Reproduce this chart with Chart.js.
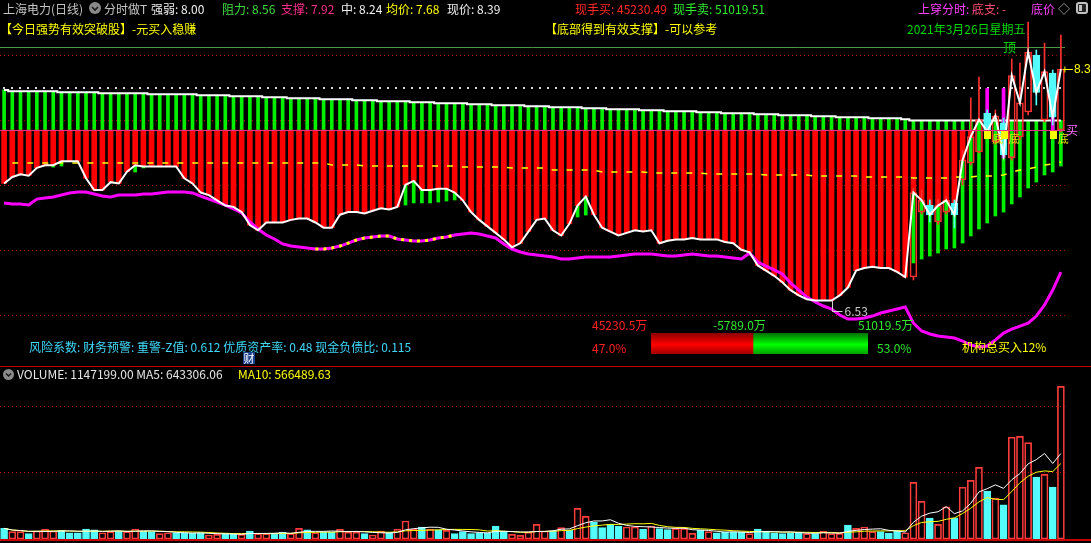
<!DOCTYPE html>
<html>
<head>
<meta charset="utf-8">
<script src="https://cdn.jsdelivr.net/npm/chart.js@4.4.1/dist/chart.umd.min.js"></script>
<style>
html, body { margin: 0; padding: 0; background: #000; }
body { width: 1091px; height: 543px; position: relative; overflow: hidden;
       font-family: "Noto Sans CJK SC", "Noto Sans", sans-serif; font-size: 12px; }
.t { position: absolute; white-space: nowrap; line-height: 14px; }
#main { position: absolute; left: 0; top: 0; }
#vol { position: absolute; left: 0; top: 367px; }
#ratio { position: absolute; left: 651px; top: 333px; }
#sep { position: absolute; left: 0; top: 366px; width: 1091px; height: 1px; background: #c80000; }
#bottom { position: absolute; left: 0; top: 539px; width: 1091px; height: 2px; background: #c80000; }
.cai { position: absolute; left: 243px; top: 352px; width: 12px; height: 12px; background: #1c3f8c;
       color: #fff; font-size: 11px; line-height: 12px; text-align: center; }
</style>
</head>
<body>
<canvas id="main" width="1091" height="366"></canvas>
<div id="sep"></div>
<canvas id="vol" width="1091" height="176"></canvas>
<div id="bottom"></div>
<canvas id="ratio" width="217" height="21"></canvas>

<!-- header row 1 -->
<div class="t" style="left:3px;top:2px;color:#c4c4c4">上海电力(日线)</div>
<svg style="position:absolute;left:89px;top:2px" width="12" height="12"><circle cx="6" cy="6" r="6" fill="#8a8a8a"/><path d="M3 5 L6 8 L9 5" stroke="#1a1a1a" stroke-width="1.6" fill="none"/></svg>
<div class="t" style="left:104px;top:2px;color:#c4c4c4">分时做T</div>
<div class="t" style="left:151px;top:2px;color:#f0f0f0">强弱: 8.00</div>
<div class="t" style="left:222px;top:2px;color:#3fdc3f">阻力: 8.56</div>
<div class="t" style="left:281px;top:2px;color:#ff2d8d">支撑: 7.92</div>
<div class="t" style="left:341px;top:2px;color:#f0f0f0">中: 8.24</div>
<div class="t" style="left:386px;top:2px;color:#ffff00">均价: 7.68</div>
<div class="t" style="left:447px;top:2px;color:#f0f0f0">现价: 8.39</div>
<div class="t" style="left:575px;top:2px;color:#ff2828">现手买: 45230.49</div>
<div class="t" style="left:673px;top:2px;color:#2ee82e">现手卖: 51019.51</div>
<div class="t" style="left:918px;top:2px;color:#ff40ff">上穿分时: -</div>
<div class="t" style="left:972px;top:2px;color:#ff4d70">底支: -</div>
<div class="t" style="left:1031px;top:2px;color:#ff40ff">底价</div>
<div class="t" style="left:1058px;top:2px;color:#b0b0b0">◇</div>
<svg style="position:absolute;left:1076px;top:2px" width="12" height="12"><rect x="1" y="1" width="10" height="10" rx="2" fill="#202020" stroke="#c0c0c0" stroke-width="2"/><rect x="3" y="3" width="3" height="6" fill="#c0c0c0"/></svg>

<!-- header row 2 -->
<div class="t" style="left:0px;top:22px;color:#ffff00">【今日强势有效突破股】-元买入稳赚</div>
<div class="t" style="left:545px;top:22px;color:#ffff00">【底部得到有效支撑】-可以参考</div>
<div class="t" style="left:907px;top:22px;color:#00d800">2021年3月26日星期五</div>

<!-- chart signals -->
<div class="t" style="left:1003px;top:40px;color:#00d000;font-size:13px">顶</div>
<div class="t" style="left:1066px;top:123px;color:#ff70ff">买</div>

<!-- money flow -->
<div class="t" style="left:592px;top:318px;color:#ff2020">45230.5万</div>
<div class="t" style="left:713px;top:318px;color:#2ee82e">-5789.0万</div>
<div class="t" style="left:858px;top:318px;color:#2ee82e">51019.5万</div>
<div class="t" style="left:592px;top:341px;color:#ff2020">47.0%</div>
<div class="t" style="left:877px;top:341px;color:#2ee82e">53.0%</div>
<div class="t" style="left:962px;top:340px;color:#ffff00">机构总买入12%</div>

<div class="t" style="left:29px;top:340px;color:#40d8f8">风险系数: 财务预警: 重警-Z值: 0.612 优质资产率: 0.48 现金负债比: 0.115</div>
<div class="cai">财</div>

<!-- volume header -->
<svg style="position:absolute;left:3px;top:369px" width="11" height="11"><circle cx="5.5" cy="5.5" r="5.5" fill="#8a8a8a"/><path d="M3 4.5 L5.5 7 L8 4.5" stroke="#1a1a1a" stroke-width="1.5" fill="none"/></svg>
<div class="t" style="left:17px;top:367px;color:#e6e6e6">VOLUME: 1147199.00 MA5: 643306.06</div>
<div class="t" style="left:238px;top:367px;color:#ffff00">MA10: 566489.63</div>

<script>
// ---- data ----
const days = Array.from({ length: 130 }, (_, i) => 'D' + (i + 1));

const close = [
  7.51, 7.56, 7.58, 7.57, 7.63, 7.65, 7.65, 7.68, 7.68, 7.68,
  7.55, 7.46, 7.46, 7.52, 7.51, 7.60, 7.65, 7.64, 7.64, 7.64,
  7.64, 7.64, 7.55, 7.51, 7.44, 7.42, 7.38, 7.34, 7.33, 7.29,
  7.19, 7.15, 7.21, 7.21, 7.21, 7.23, 7.24, 7.24, 7.21, 7.17,
  7.17, 7.27, 7.29, 7.29, 7.28, 7.30, 7.32, 7.31, 7.33, 7.50,
  7.53, 7.46, 7.46, 7.47, 7.47, 7.44, 7.38, 7.29, 7.23, 7.18,
  7.13, 7.08, 7.02, 7.05, 7.14, 7.23, 7.24, 7.15, 7.11, 7.20,
  7.34, 7.41, 7.27, 7.17, 7.14, 7.11, 7.13, 7.15, 7.14, 7.15,
  7.05, 7.07, 7.08, 7.08, 7.09, 7.08, 7.08, 7.08, 7.06, 7.05,
  7.00, 6.98, 6.88, 6.84, 6.80, 6.75, 6.69, 6.65, 6.62, 6.61,
  6.61, 6.61, 6.65, 6.71, 6.84, 6.86, 6.87, 6.86, 6.86, 6.83,
  6.79, 7.44, 7.38, 7.27, 7.34, 7.38, 7.27, 7.69, 7.87, 8.00,
  7.91, 8.03, 7.73, 8.34, 8.13, 8.52, 8.21, 8.37, 8.02, 8.39
];

// top of the green bars (stepped pressure line)
const greenTop = [
  8.228, 8.218, 8.218, 8.218, 8.218, 8.218, 8.218, 8.211, 8.211, 8.211,
  8.211, 8.211, 8.203, 8.203, 8.203, 8.203, 8.203, 8.203, 8.195, 8.195,
  8.195, 8.195, 8.195, 8.195, 8.187, 8.187, 8.187, 8.187, 8.180, 8.180,
  8.180, 8.180, 8.172, 8.172, 8.172, 8.164, 8.164, 8.164, 8.164, 8.157,
  8.157, 8.157, 8.157, 8.149, 8.149, 8.149, 8.141, 8.141, 8.141, 8.141,
  8.134, 8.134, 8.134, 8.126, 8.126, 8.126, 8.126, 8.118, 8.118, 8.118,
  8.111, 8.111, 8.111, 8.111, 8.103, 8.103, 8.103, 8.095, 8.095, 8.095,
  8.095, 8.088, 8.088, 8.088, 8.080, 8.080, 8.080, 8.080, 8.072, 8.072,
  8.072, 8.065, 8.065, 8.065, 8.065, 8.057, 8.057, 8.057, 8.049, 8.049,
  8.049, 8.049, 8.041, 8.041, 8.041, 8.034, 8.034, 8.034, 8.034, 8.026,
  8.026, 8.026, 8.018, 8.018, 8.018, 8.018, 8.011, 8.011, 8.011, 8.011,
  8.003, 7.994, 7.994, 7.994, 7.994, 7.994, 7.994, 7.994, 7.994, 7.994,
  7.994, 7.994, 7.994, 7.994, 7.994, 7.994, 7.994, 7.994, 7.994, 7.994
];

// lower ends of the green bars under the price
const greenLowIdx = [6, 7, 16, 17, 49, 50, 51, 52, 53, 54, 55, 70, 71,
  111, 112, 113, 114, 115, 116, 117, 118, 119, 120, 121, 122, 123, 124, 125, 126, 127, 128, 129];
const greenLowVal = [7.636, 7.644, 7.598, 7.629, 7.344, 7.360, 7.360, 7.360, 7.367, 7.375, 7.383, 7.252, 7.267,
  6.899, 6.929, 6.952, 6.975, 7.006, 7.014, 7.052, 7.106, 7.160, 7.206, 7.260, 7.290, 7.352, 7.406, 7.475,
  7.521, 7.575, 7.598, 7.644];

// magenta trend line
const trend = [
  7.360, 7.352, 7.352, 7.344, 7.390, 7.398, 7.406, 7.421, 7.437, 7.444,
  7.444, 7.429, 7.413, 7.406, 7.421, 7.421, 7.421, 7.429, 7.429, 7.437,
  7.444, 7.444, 7.444, 7.437, 7.413, 7.390, 7.367, 7.344, 7.314, 7.283,
  7.214, 7.160, 7.114, 7.083, 7.045, 7.029, 7.021, 7.014, 7.006, 7.006,
  7.014, 7.029, 7.052, 7.075, 7.091, 7.098, 7.106, 7.106, 7.083, 7.075,
  7.068, 7.068, 7.075, 7.091, 7.098, 7.114, 7.121, 7.129, 7.121, 7.106,
  7.091, 7.045, 7.006, 6.983, 6.968, 6.960, 6.952, 6.945, 6.929, 6.929,
  6.937, 6.945, 6.945, 6.945, 6.945, 6.952, 6.960, 6.968, 6.968, 6.968,
  6.960, 6.952, 6.952, 6.960, 6.968, 6.960, 6.952, 6.952, 6.945, 6.937,
  6.929, 6.975, 6.906, 6.875, 6.845, 6.814, 6.745, 6.691, 6.637, 6.599,
  6.568, 6.545, 6.499, 6.468, 6.468, 6.476, 6.491, 6.514, 6.530, 6.545,
  6.560, 6.437, 6.376, 6.353, 6.337, 6.330, 6.322, 6.299, 6.268, 6.253,
  6.261, 6.307, 6.360, 6.391, 6.414, 6.437, 6.491, 6.576, 6.691, 6.829
];
const trendHiFrom = 38, trendHiTo = 55;   // yellow-dotted stretch of the trend line

// yellow dashed average line
const avgLine = [
  null, 7.667, 7.667, 7.667, 7.667, 7.667, 7.667, 7.667, 7.667, 7.667,
  7.667, 7.667, 7.667, 7.667, 7.667, 7.667, 7.667, 7.667, 7.667, 7.667,
  7.667, 7.667, 7.667, 7.667, 7.667, 7.667, 7.667, 7.667, 7.667, 7.667,
  7.667, 7.667, 7.667, 7.667, 7.667, 7.667, 7.667, 7.667, 7.667, 7.667,
  7.652, 7.652, 7.652, 7.652, 7.644, 7.644, 7.644, 7.644, 7.644, 7.644,
  7.644, 7.644, 7.644, 7.644, 7.644, 7.644, 7.636, 7.636, 7.636, 7.636,
  7.636, 7.636, 7.629, 7.629, 7.629, 7.629, 7.629, 7.613, 7.613, 7.613,
  7.613, 7.613, 7.613, 7.598, 7.598, 7.598, 7.598, 7.598, 7.598, 7.590,
  7.590, 7.590, 7.590, 7.590, 7.590, 7.590, 7.583, 7.583, 7.583, 7.583,
  7.583, 7.583, 7.583, 7.575, 7.575, 7.575, 7.575, 7.575, 7.575, 7.567,
  7.567, 7.567, 7.567, 7.567, 7.567, 7.560, 7.560, 7.560, 7.560, 7.560,
  7.560, 7.552, 7.552, 7.552, 7.552, 7.552, 7.560, 7.560, 7.560, 7.567,
  7.567, 7.567, 7.575, 7.598, 7.613, 7.621, 7.636, 7.652, 7.660, 7.675
];

// candles of the last 19 sessions
const candleFrom = 111;
const cOpen = [6.791, 7.290, 7.344, 7.214, 7.290, 7.360, 7.537, 7.667, 7.752, 8.051,
  7.829, 7.975, 7.706, 7.867, 8.059, 8.497, 7.998, 8.359, 7.921];
const cHigh = [7.475, 7.460, 7.383, 7.390, 7.413, 7.383, 7.767, 8.167, 8.328, 8.075,
  8.075, 8.013, 8.467, 8.436, 8.751, 8.536, 8.589, 8.382, 8.651];
const cLow = [6.768, 7.275, 7.214, 7.198, 7.275, 7.168, 7.498, 7.652, 7.744, 7.882,
  7.813, 7.706, 7.690, 7.844, 8.036, 8.113, 7.982, 7.959, 7.906];

// magenta signal bars
const sigIdx = [120, 122, 128];
const sigBot = [7.905, 7.706, 7.921];
const diIdx = [120, 122, 128];   // 底 markers

const levels = { resist: 8.56, mid: 8.24, support: 7.92 };
const lowIdx = 101, lowVal = 6.53;
const priceGrid = [6.5, 7.0, 7.5, 8.0, 8.5];

const volume = [
  80000, 55000, 55000, 40000, 60000, 73000, 60000, 65000, 47000, 47000,
  75000, 68000, 47000, 55000, 60000, 55000, 75000, 60000, 55000, 40000,
  47000, 47000, 47000, 42000, 47000, 30000, 35000, 40000, 35000, 35000,
  60000, 40000, 40000, 42000, 52000, 40000, 80000, 68000, 47000, 52000,
  52000, 73000, 52000, 52000, 40000, 30000, 60000, 47000, 73000, 135000,
  73000, 90000, 73000, 68000, 65000, 40000, 55000, 40000, 47000, 47000,
  98000, 55000, 35000, 27000, 52000, 110000, 60000, 60000, 85000, 65000,
  230000, 170000, 128000, 85000, 110000, 98000, 90000, 90000, 75000, 98000,
  78000, 70000, 80000, 80000, 42000, 65000, 55000, 47000, 52000, 52000,
  52000, 40000, 75000, 60000, 47000, 40000, 47000, 47000, 40000, 40000,
  58000, 40000, 42000, 105000, 80000, 90000, 55000, 55000, 45000, 58000,
  47000, 426000, 283000, 158000, 110000, 241000, 160000, 389000, 441000, 539000,
  361000, 306000, 256000, 765000, 772000, 725000, 466000, 486000, 391000, 1147199
];
const volUp = [
  0, 1, 1, 0, 1, 1, 1, 0, 0, 0,
  0, 0, 1, 1, 0, 1, 1, 0, 0, 1,
  1, 0, 0, 0, 0, 1, 1, 0, 0, 1,
  0, 1, 1, 0, 0, 1, 1, 0, 1, 0,
  0, 1, 1, 1, 0, 1, 1, 0, 1, 1,
  1, 0, 1, 0, 1, 0, 0, 0, 0, 0,
  0, 0, 1, 1, 1, 1, 1, 0, 1, 0,
  1, 1, 0, 0, 0, 0, 1, 1, 0, 1,
  0, 0, 1, 1, 1, 0, 1, 0, 0, 0,
  0, 1, 0, 0, 0, 0, 0, 0, 1, 0,
  1, 1, 1, 0, 1, 1, 1, 0, 0, 0,
  1, 1, 1, 0, 1, 1, 0, 1, 1, 1,
  0, 1, 0, 1, 1, 1, 0, 1, 0, 1
];
const volGrid = [500000, 1000000];

const flowPct = [47.0, 53.0];

// ---- colours ----
const RED = '#ff0000', GREEN = '#00f000', CYAN = '#54fcfc', MAG = '#ff00ff';

// ---- derived series ----
const N = days.length;
const redBars = close.map(c => c < levels.support ? [c, levels.support] : null);
const greenUp = greenTop.map(v => [levels.support, v]);
const greenLow = new Array(N).fill(null);
greenLowIdx.forEach((k, j) => { greenLow[k] = [greenLowVal[j], Math.min(close[k], levels.support)]; });

const body = new Array(N).fill(null), wickHi = new Array(N).fill(null), wickLo = new Array(N).fill(null);
const candleUp = new Array(N).fill(true);
cOpen.forEach((o, j) => {
  const k = candleFrom + j, c = close[k];
  body[k] = [o, c];
  wickHi[k] = [Math.max(o, c), cHigh[j]];
  wickLo[k] = [cLow[j], Math.min(o, c)];
  candleUp[k] = c >= o;
});
const sigBars = new Array(N).fill(null);
sigIdx.forEach((k, j) => { sigBars[k] = [sigBot[j], levels.mid]; });
const trendHi = trend.map((v, i) => (i >= trendHiFrom && i <= trendHiTo) ? v : null);

function movingAvg(arr, n) {
  return arr.map((v, i) => {
    const part = arr.slice(Math.max(0, i - n + 1), i + 1);
    return part.reduce((a, b) => a + b, 0) / part.length;
  });
}
const ma5 = movingAvg(volume, 5);
const ma10 = movingAvg(volume, 10);

function hline(ctx, x0, x1, y) {
  ctx.beginPath(); ctx.moveTo(x0, y); ctx.lineTo(x1, y); ctx.stroke();
}

// ---- main panel ----
const mainDecor = {
  id: 'mainDecor',
  beforeDatasetsDraw(chart) {
    const { ctx, chartArea: a, scales: { y } } = chart;
    ctx.save();
    ctx.lineWidth = 1;
    ctx.strokeStyle = '#a00000';
    ctx.setLineDash([1, 3]);
    priceGrid.forEach(v => hline(ctx, a.left, a.right, Math.round(y.getPixelForValue(v)) + 0.5));
    ctx.strokeStyle = '#d8d8d8';
    ctx.lineWidth = 2;
    ctx.setLineDash([2, 6]);
    hline(ctx, a.left + 3, a.right, Math.round(y.getPixelForValue(levels.mid)));
    ctx.setLineDash([]);
    ctx.lineWidth = 1;
    ctx.strokeStyle = '#4a9a4a';
    hline(ctx, a.left, a.right, Math.round(y.getPixelForValue(levels.resist)) + 0.5);
    ctx.restore();
  },
  afterDatasetsDraw(chart) {
    const { ctx, chartArea: a, scales: { x, y } } = chart;
    ctx.save();
    // support line
    ctx.strokeStyle = '#e8308a';
    ctx.lineWidth = 1;
    hline(ctx, a.left, a.right, Math.round(y.getPixelForValue(levels.support)) + 0.5);

    // 底 markers
    ctx.font = '11px "Noto Sans CJK SC"';
    ctx.textBaseline = 'middle';
    diIdx.forEach(k => {
      const px = x.getPixelForValue(k), py = y.getPixelForValue(levels.support);
      ctx.fillStyle = '#ffff00';
      ctx.fillRect(Math.round(px) - 3, Math.round(py) + 1, 7, 8);
      ctx.fillStyle = '#e8e000';
      ctx.fillText('底', px + 5, py + 9);
    });

    // last price arrow
    const lx = x.getPixelForValue(N - 1), ly = Math.round(y.getPixelForValue(close[N - 1])) + 0.5;
    ctx.strokeStyle = '#ffff00';
    hline(ctx, lx + 2, lx + 12, ly);
    ctx.beginPath(); ctx.moveTo(lx + 4, ly - 3); ctx.lineTo(lx + 4, ly + 3); ctx.stroke();
    ctx.fillStyle = '#ffff00';
    ctx.font = '12px "Liberation Sans", Arial, sans-serif';
    ctx.fillText(close[N - 1].toFixed(2), lx + 13, ly);

    // lowest price marker
    const mx = Math.round(x.getPixelForValue(lowIdx)) + 0.5;
    const my = Math.round(y.getPixelForValue(lowVal)) + 0.5;
    ctx.strokeStyle = '#d0d0d0';
    ctx.beginPath(); ctx.moveTo(mx, y.getPixelForValue(close[lowIdx])); ctx.lineTo(mx, my); ctx.stroke();
    hline(ctx, mx, mx + 10, my);
    ctx.fillStyle = '#c8c8c8';
    ctx.font = '12px "Noto Sans CJK SC"';
    ctx.fillText(lowVal.toFixed(2), mx + 12, my);
    ctx.restore();
  }
};

const barBase = { type: 'bar', grouped: false, borderWidth: 0 };
const lineBase = { type: 'line', pointRadius: 0, fill: false, tension: 0 };

const mainSets = [
  { ...barBase, data: greenUp, backgroundColor: GREEN, barThickness: 3 },
  { ...barBase, data: greenLow, backgroundColor: GREEN, barThickness: 3 },
  { ...barBase, data: redBars, backgroundColor: RED, barThickness: 5 },
  { ...lineBase, data: greenTop, borderColor: '#ffffff', borderWidth: 2, stepped: 'middle' },
  { ...lineBase, data: avgLine, borderColor: '#ffff00', borderWidth: 1.5, borderDash: [6, 9] },
  { ...barBase, data: sigBars, backgroundColor: MAG, barThickness: 3 },
  { ...barBase, data: wickHi, barThickness: 1,
    backgroundColor: c => candleUp[c.dataIndex] ? '#ff3030' : CYAN },
  { ...barBase, data: wickLo, barThickness: 1,
    backgroundColor: c => candleUp[c.dataIndex] ? '#ff3030' : CYAN },
  { ...barBase, data: body, barThickness: 7, borderWidth: 1, borderSkipped: false,
    borderColor: c => candleUp[c.dataIndex] ? '#ff3030' : CYAN,
    backgroundColor: c => candleUp[c.dataIndex] ? 'rgba(0,0,0,0)' : CYAN },
  { ...lineBase, data: trend, borderColor: MAG, borderWidth: 3 },
  { ...lineBase, data: trendHi, borderColor: '#ffff00', borderWidth: 3, borderDash: [3, 5] },
  { ...lineBase, data: close, borderColor: '#ffffff', borderWidth: 2 }
];
mainSets.forEach((d, i) => { d.order = 100 - i; });

Chart.defaults.font.family = '"Noto Sans CJK SC", sans-serif';

new Chart(document.getElementById('main'), {
  type: 'bar',
  data: { labels: days, datasets: mainSets },
  options: {
    responsive: false, animation: false, devicePixelRatio: 1,
    layout: { padding: { left: 0, right: 26, top: 0, bottom: 0 } },
    plugins: { legend: { display: false }, tooltip: { enabled: false } },
    scales: {
      x: { display: false, offset: true },
      y: { display: false, min: 6.107, max: 8.920 }
    }
  },
  plugins: [mainDecor]
});

// ---- volume panel ----
const volDecor = {
  id: 'volDecor',
  beforeDatasetsDraw(chart) {
    const { ctx, chartArea: a, scales: { y } } = chart;
    ctx.save();
    ctx.strokeStyle = '#a00000';
    ctx.lineWidth = 1;
    ctx.setLineDash([1, 3]);
    volGrid.forEach(v => hline(ctx, a.left, a.right, Math.round(y.getPixelForValue(v)) + 0.5));
    ctx.restore();
  }
};

const volSets = [
  { ...barBase, data: volume, barThickness: 7, borderWidth: 1, borderSkipped: false,
    borderColor: c => volUp[c.dataIndex] ? '#ff3c3c' : CYAN,
    backgroundColor: c => volUp[c.dataIndex] ? 'rgba(0,0,0,0)' : CYAN },
  { ...lineBase, data: ma10, borderColor: '#ffff00', borderWidth: 1 },
  { ...lineBase, data: ma5, borderColor: '#ffffff', borderWidth: 1 }
];
volSets.forEach((d, i) => { d.order = 100 - i; });

new Chart(document.getElementById('vol'), {
  type: 'bar',
  data: { labels: days, datasets: volSets },
  options: {
    responsive: false, animation: false, devicePixelRatio: 1,
    layout: { padding: { left: 0, right: 26, top: 0, bottom: 4 } },
    plugins: { legend: { display: false }, tooltip: { enabled: false } },
    scales: {
      x: { display: false, offset: true },
      y: { display: false, min: 0, max: 1293000 }
    }
  },
  plugins: [volDecor]
});

// ---- buy / sell ratio bar ----
function gradFill(stops) {
  return c => {
    const { ctx, chartArea } = c.chart;
    if (!chartArea) return stops[1];
    const g = ctx.createLinearGradient(0, chartArea.top, 0, chartArea.bottom);
    g.addColorStop(0, stops[0]); g.addColorStop(0.55, stops[1]); g.addColorStop(1, stops[2]);
    return g;
  };
}
new Chart(document.getElementById('ratio'), {
  type: 'bar',
  data: {
    labels: [''],
    datasets: [
      { data: [flowPct[0]], backgroundColor: gradFill(['#8c0000', '#ff0000', '#a00000']), borderWidth: 0 },
      { data: [flowPct[1]], backgroundColor: gradFill(['#007000', '#00ff00', '#00a000']), borderWidth: 0 }
    ]
  },
  options: {
    indexAxis: 'y', responsive: false, animation: false, devicePixelRatio: 1,
    barPercentage: 1, categoryPercentage: 1,
    layout: { padding: 0 },
    plugins: { legend: { display: false }, tooltip: { enabled: false } },
    scales: {
      x: { display: false, stacked: true, min: 0, max: 100 },
      y: { display: false, stacked: true }
    }
  }
});
</script>
</body>
</html>
